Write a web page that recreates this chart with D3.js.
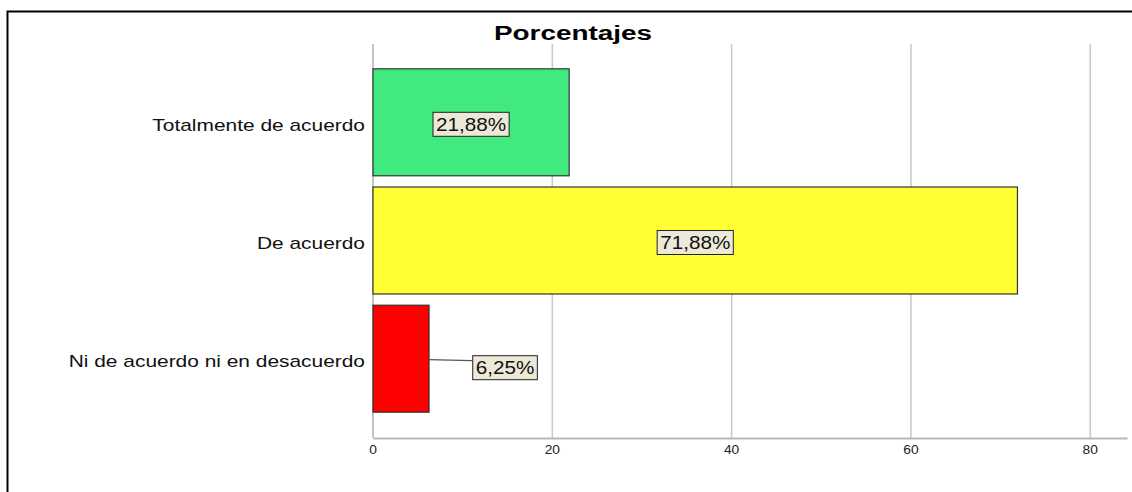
<!DOCTYPE html>
<html><head><meta charset="utf-8">
<script src="https://cdn.jsdelivr.net/npm/d3@7"></script>
<style>body{margin:0;background:#fff}svg{display:block}</style>
</head><body>
<svg id="c" width="1132" height="492"></svg>
<script>
const categories = ["Totalmente de acuerdo", "De acuerdo", "Ni de acuerdo ni en desacuerdo"];
const values = [21.88, 71.88, 6.25];
const labels = ["21,88%", "71,88%", "6,25%"];
const colors = ["#40EA7F", "#FFFF33", "#FF0000"];
const ticks = [0, 20, 40, 60, 80];
const title = "Porcentajes";

const svg = d3.select("#c");
const font = "'Liberation Sans', Arial, sans-serif";

// place a text at (x,y) stretched horizontally by factor f around its anchor
function stxt(parent, x, y, str, size, f, anchor, weight) {
  return parent.append("text")
    .attr("transform", `translate(${x},${y}) scale(${f},1)`)
    .attr("font-family", font).attr("font-size", size)
    .attr("font-weight", weight || "normal")
    .attr("text-anchor", anchor).attr("fill", "#111").text(str);
}

// outer frame
svg.append("path").attr("d","M7.5,492 V11.5 H1132").attr("fill","none").attr("stroke","#000").attr("stroke-width",2);

const x = d3.scaleLinear().domain([0, 84.1]).range([373, 1127]);
const y = d3.scaleBand().domain(categories).range([57, 424]).paddingInner(0.095).paddingOuter(0.1);

// gridlines
svg.append("g").selectAll("line").data(ticks.slice(1)).join("line")
  .attr("x1", d=>x(d)).attr("x2", d=>x(d)).attr("y1", 44).attr("y2", 438)
  .attr("stroke","#c8c8c8").attr("stroke-width",1.5);
svg.append("line").attr("x1",x(0)).attr("x2",x(0)).attr("y1",44).attr("y2",438).attr("stroke","#b0b0b0").attr("stroke-width",1.5);

const ax = svg.append("g").attr("transform","translate(0,438)")
  .call(d3.axisBottom(x).tickValues(ticks).tickSize(0).tickFormat(""));
ax.select(".domain").attr("stroke","#b8b8b8").attr("stroke-width",2);
ticks.forEach(t => stxt(svg, x(t), 454, d3.format("d")(t), 12, 1.15, "middle").attr("fill","#222"));

// bars
svg.append("g").selectAll("rect").data(values).join("rect")
  .attr("x", x(0)).attr("y",(d,i)=>y(categories[i]))
  .attr("width", d=>x(d)-x(0)).attr("height", y.bandwidth())
  .attr("fill",(d,i)=>colors[i]).attr("stroke","#333").attr("stroke-width",1.2);

// category labels
categories.forEach(c => stxt(svg, 365, y(c)+y.bandwidth()/2+8.5, c, 17, 1.23, "end"));

// value labels
values.forEach((v,i)=>{
  const cy = y(categories[i]) + y.bandwidth()/2;
  let cx = x(v/2), ly = cy + 2;
  const g = svg.append("g");
  if (v < 10) {
    cx = x(v) + 76; ly = cy + 9;
    g.append("line").attr("x1",x(v)).attr("y1",cy+1).attr("x2",cx-33).attr("y2",cy+2)
      .attr("stroke","#555").attr("stroke-width",1.2);
  }
  const bg = g.append("rect");
  const t = stxt(g, cx, ly + 6.5, labels[i], 18, 1.15, "middle");
  const w = t.node().getComputedTextLength() * 1.15;
  bg.attr("x", cx - w/2 - 3).attr("y", ly - 12).attr("width", w + 6).attr("height", 24)
    .attr("fill","#ECE9D8").attr("stroke","#222").attr("stroke-width",1);
});

// title
stxt(svg, 573, 40, title, 21, 1.33, "middle", "bold").attr("fill","#000");
</script>
</body></html>
